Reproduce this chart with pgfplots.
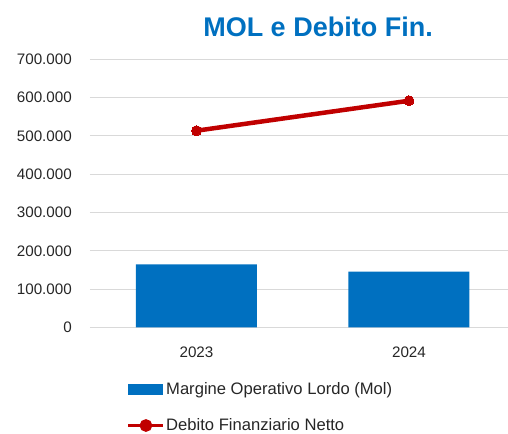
\documentclass[border=0pt]{standalone}
\usepackage{fontspec}
\setmainfont{Liberation Sans}
\usepackage{pgfplots}
\pgfplotsset{compat=1.18}
\definecolor{molblue}{HTML}{0070C0}
\definecolor{dfnred}{HTML}{C00000}
\definecolor{gridgray}{HTML}{D9D9D9}
\definecolor{txt}{HTML}{262626}

\begin{document}
\begin{tikzpicture}
\useasboundingbox (-90bp,-106.6bp) rectangle (418bp,327.4bp);
\begin{axis}[
    scale only axis,
    width=418bp, height=268.1bp,
    at={(0,0)}, anchor=south west,
    xmin=-0.501, xmax=1.466,
    ymin=0, ymax=700000,
    xtick={0,1}, xticklabels={2023,2024},
    ytick={0,100000,...,700000},
    axis line style={draw=none},
    major tick length=0pt,
    ymajorgrids, grid style={gridgray, line width=0.9bp},
    scaled y ticks=false,
    /pgf/number format/.cd, fixed, 1000 sep={.}, assume math mode=true,
    /pgfplots/.cd,
    tick label style={font=\fontsize{15.2bp}{17bp}\selectfont, text=txt},
    yticklabel style={anchor=east, inner sep=0pt, xshift=-18bp},
    xticklabel style={anchor=north, inner sep=0pt, yshift=-19bp},
    title={MOL e Debito Fin.},
    title style={at={(axis description cs:0.5455,1.099)}, anchor=center,
        font=\bfseries\fontsize{27bp}{30bp}\selectfont, text=molblue, inner sep=0pt},
    legend cell align=left,
    legend style={at={(axis description cs:0.0885,-0.200)}, anchor=north west,
        draw=none, fill=none, inner sep=0pt,
        font=\fontsize{16.6bp}{19bp}\selectfont, text=txt,
        row sep=19.5bp, nodes={inner sep=1.5bp}},
]
\addplot[ybar, bar width=121bp, fill=molblue, draw=none,
    legend image code/.code={\fill[molblue] (0bp,-5.5bp) rectangle (35bp,5.5bp);}]
    coordinates {(0,164700) (1,145400)};
\addlegendentry{Margine Operativo Lordo (Mol)}
\addplot[dfnred, line width=4.5bp, mark=*, mark size=5bp,
    mark options={fill=dfnred, draw=dfnred, line width=0pt},
    legend image code/.code={
        \draw[dfnred, line width=2.5bp] (0bp,0bp) -- (35bp,0bp);
        \fill[dfnred] (17.5bp,0bp) circle (4bp);}]
    coordinates {(0,513600) (1,591800)};
\addlegendentry{Debito Finanziario Netto}
\end{axis}
\end{tikzpicture}
\end{document}
